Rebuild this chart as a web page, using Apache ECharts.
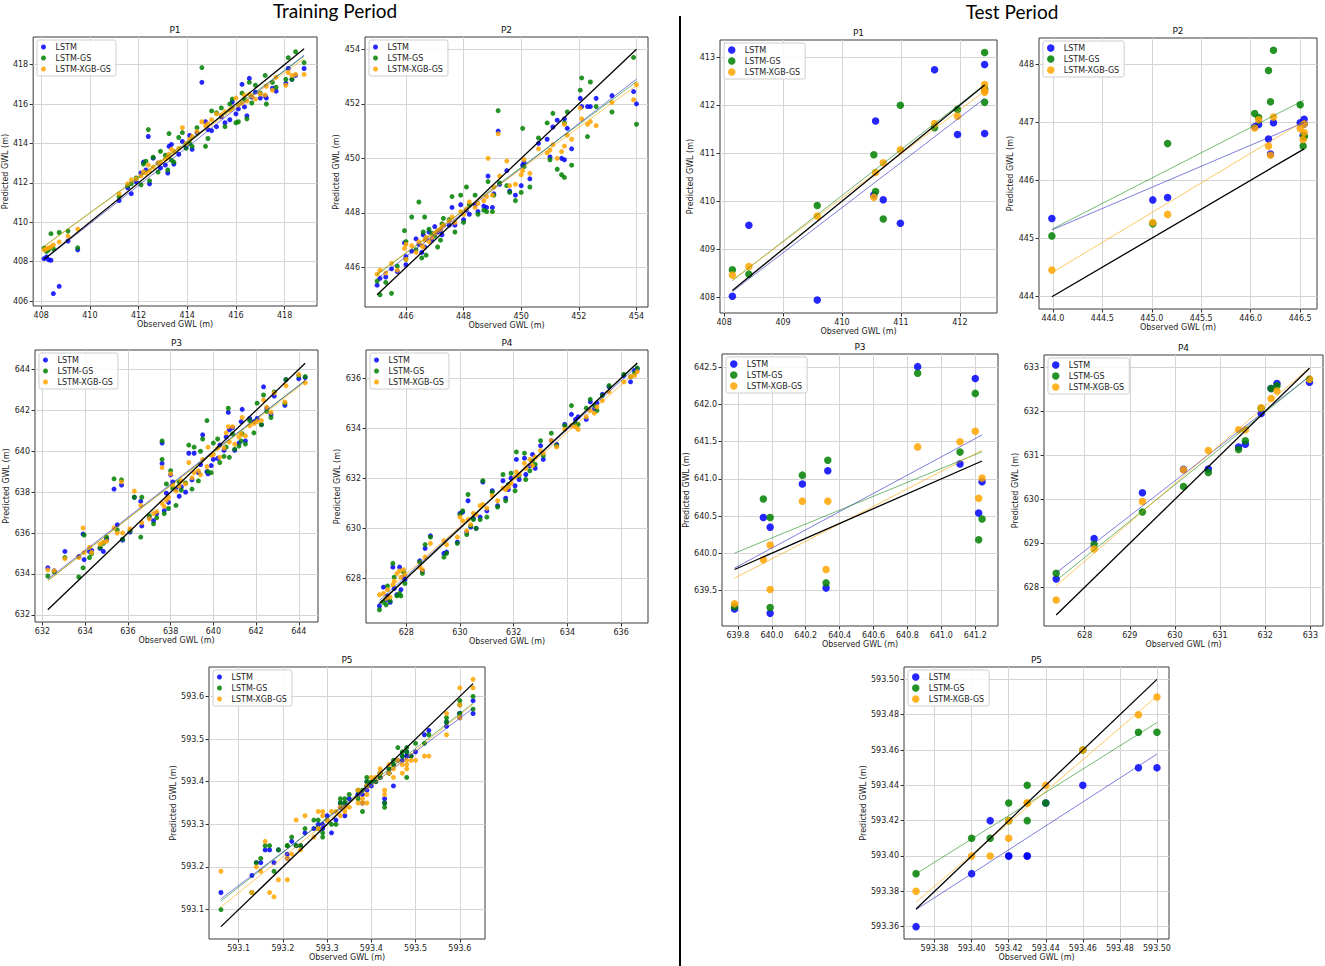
<!DOCTYPE html>
<html>
<head>
<meta charset="utf-8">
<title>Observed vs predicted GWL</title>
<script src="https://cdn.jsdelivr.net/npm/echarts@6/dist/echarts.min.js"></script>
<style>
html, body { margin: 0; padding: 0; background: #fff; }
#chart { width: 1325px; height: 966px; }
</style>
</head>
<body>
<div id="chart"></div>
<script>
var chart = echarts.init(document.getElementById('chart'), null, { renderer: 'svg' });

var seriesNames = ['LSTM', 'LSTM-GS', 'LSTM-XGB-GS'];

// ---- training period, P1
var trainP1Obs = [408.12, 408.22, 408.30, 408.40, 408.50, 408.74, 409.10, 409.50, 411.20, 411.55, 411.70, 411.90,
    412.10, 412.20, 412.30, 412.40, 412.45, 412.60, 412.80, 412.90, 413.10, 413.20, 413.25, 413.35, 413.45, 413.65,
    413.80, 413.95, 414.10, 414.20, 414.40, 414.60, 414.75, 414.85, 415.00, 415.20, 415.40, 415.55, 415.75, 415.85,
    416.00, 416.10, 416.25, 416.35, 416.45, 416.55, 416.65, 416.80, 417.00, 417.20, 417.25, 417.50, 417.65, 418.05,
    418.15, 418.30, 418.45, 418.80];
var trainP1Lstm = [408.15, 408.24, 408.10, 408.07, 406.38, 406.75, 409.05, 408.60, 411.10, 411.75, 411.45, 412.05,
    412.50, 413.05, 412.65, 414.35, 411.95, 413.25, 413.00, 412.75, 412.90, 412.50, 413.85, 413.95, 412.95, 413.45,
    414.10, 413.80, 414.40, 413.70, 414.55, 417.10, 415.10, 414.70, 414.65, 414.85, 415.35, 415.05, 415.20, 416.10,
    415.50, 415.75, 417.00, 415.85, 415.40, 417.30, 416.35, 416.60, 416.30, 416.40, 416.30, 416.80, 416.65, 417.05,
    417.80, 417.25, 417.45, 417.80];
var trainP1Gs = [408.68, 408.52, 408.60, 409.42, 408.65, 409.48, 409.55, 408.70, 411.30, 411.85, 411.95, 412.25,
    411.90, 412.95, 413.10, 414.70, 412.10, 413.30, 412.55, 413.60, 413.40, 412.65, 414.50, 413.15, 413.05, 414.30,
    414.55, 413.75, 414.00, 413.85, 414.80, 417.85, 413.85, 414.25, 415.65, 415.55, 415.80, 414.85, 416.00, 416.25,
    415.05, 415.10, 416.55, 416.25, 415.25, 417.10, 416.05, 416.95, 416.55, 417.45, 416.00, 417.10, 416.85, 417.25,
    418.35, 417.25, 418.65, 418.10];
var trainP1Xgb = [408.60, 408.65, 408.70, 408.75, 408.85, 409.00, 409.30, 409.65, 411.45, 411.95, 412.15, 412.20,
    412.35, 412.55, 412.50, 412.90, 412.60, 412.80, 413.00, 413.05, 413.20, 413.30, 413.45, 413.70, 413.60, 413.75,
    414.80, 414.00, 414.20, 414.35, 414.60, 415.10, 414.90, 415.00, 415.20, 415.50, 415.45, 415.60, 415.70, 415.80,
    416.30, 415.95, 416.05, 416.45, 416.15, 416.50, 416.40, 416.25, 416.50, 416.45, 416.90, 416.70, 417.35, 416.95,
    417.60, 417.45, 417.50, 417.50];
var trainP1XTicks = [408, 410, 412, 414, 416, 418];
var trainP1YTicks = [406, 408, 410, 412, 414, 416, 418];

// ---- training period, P2
var trainP2Obs = [445.0, 445.1, 445.3, 445.5, 445.7, 445.95, 446.0, 446.0, 446.2, 446.35, 446.45, 446.55, 446.6,
    446.65, 446.7, 446.8, 446.9, 447.0, 447.1, 447.2, 447.25, 447.3, 447.5, 447.6, 447.7, 447.9, 448.0, 448.1, 448.2,
    448.4, 448.5, 448.7, 448.8, 448.85, 449.0, 449.05, 449.2, 449.25, 449.5, 449.6, 449.8, 450.0, 450.05, 450.1,
    450.3, 450.6, 450.9, 451.0, 451.1, 451.25, 451.4, 451.5, 451.5, 451.6, 451.75, 452.05, 452.1, 452.3, 452.4,
    452.6, 453.15, 453.9, 454.0];
var trainP2Lstm = [445.35, 445.60, 445.65, 445.95, 445.85, 446.90, 446.10, 446.40, 446.60, 447.05,
    446.85, 446.55, 447.20, 446.75, 447.05, 447.30, 447.00, 447.50, 447.30, 447.35,
    447.20, 447.55, 447.55, 448.20, 447.55, 448.30, 447.75, 448.10, 447.95, 448.30,
    448.05, 448.25, 448.20, 449.35, 448.20, 448.70, 451.00, 449.05, 449.55, 448.80,
    448.65, 449.00, 449.75, 449.85, 449.25, 450.55, 450.70, 450.05, 451.15, 451.40,
    450.00, 449.95, 451.45, 451.10, 450.35, 452.20, 451.90, 451.90, 451.90, 452.20,
    452.30, 452.45, 452.00];
var trainP2Gs = [445.50, 445.00, 445.45, 445.05, 446.05, 447.35, 446.95, 446.30, 447.85, 446.65,
    448.40, 446.35, 447.30, 447.85, 446.45, 447.40, 447.25, 447.15, 446.75, 447.00,
    447.60, 447.80, 447.75, 448.60, 447.30, 448.65, 447.65, 448.95, 448.30, 448.65,
    447.95, 448.10, 448.05, 449.15, 448.05, 448.65, 451.75, 449.10, 449.00, 448.75,
    448.45, 448.75, 451.10, 449.70, 448.95, 450.75, 451.30, 449.95, 451.65, 449.60,
    449.40, 449.30, 451.30, 451.70, 449.75, 452.50, 452.95, 450.80, 452.80, 451.90,
    451.70, 453.70, 451.25];
var trainP2Xgb = [445.75, 445.90, 445.80, 446.15, 445.90, 446.70, 446.30, 446.85, 446.80, 446.55,
    446.95, 446.80, 446.75, 447.00, 447.10, 446.95, 447.10, 447.25, 447.35, 447.40,
    447.50, 447.55, 447.70, 447.85, 447.65, 448.05, 447.95, 448.15, 448.40, 448.20,
    448.35, 448.45, 448.60, 450.00, 448.65, 448.95, 450.90, 449.35, 449.90, 449.00,
    449.05, 449.40, 449.55, 449.95, 449.45, 450.35, 450.20, 450.30, 450.50, 450.00,
    450.25, 450.45, 451.25, 450.85, 450.70, 451.85, 451.45, 451.25, 451.35, 451.20,
    452.05, 452.15, 452.70];
var trainP2XTicks = [446, 448, 450, 452, 454];
var trainP2YTicks = [446, 448, 450, 452, 454];

// ---- training period, P3
var trainP3Obs = [632.25, 632.55, 633.05, 633.7, 633.9, 633.95, 634.2, 634.3, 634.7, 634.85, 635.0, 635.35, 635.5,
    635.7, 635.75, 636.1, 636.3, 636.6, 636.65, 637.0, 637.2, 637.35, 637.6, 637.6, 637.7, 637.8, 637.9, 638.0,
    638.1, 638.25, 638.4, 638.5, 638.7, 638.85, 639.0, 639.1, 639.3, 639.4, 639.5, 639.7, 639.75, 639.9, 640.0,
    640.2, 640.3, 640.5, 640.6, 640.7, 640.75, 640.9, 641.0, 641.2, 641.3, 641.35, 641.5, 641.7, 641.9, 642.05,
    642.25, 642.35, 642.5, 642.7, 642.85, 643.35, 643.4, 644.0, 644.3];
var trainP3Lstm = [634.30, 634.15, 635.10, 634.85, 635.95, 634.70, 635.10, 635.15, 635.25, 635.10,
    635.70, 638.15, 636.40, 638.35, 635.65, 636.05, 637.75, 637.55, 636.35, 636.75,
    636.60, 636.95, 640.40, 639.40, 637.10, 637.95, 637.50, 638.85, 638.50, 638.15,
    637.80, 638.25, 638.00, 639.90, 638.60, 639.90, 638.95, 639.35, 640.80, 639.00,
    638.90, 639.30, 639.60, 639.65, 640.30, 640.05, 640.70, 641.90, 641.05, 641.15,
    640.05, 640.40, 641.45, 642.05, 640.50, 641.60, 641.45, 641.60, 641.30, 643.15,
    642.10, 641.80, 642.70, 642.25, 643.50, 643.55, 643.60];
var trainP3Gs = [633.90, 634.10, 634.80, 633.85, 634.30, 635.90, 634.80, 635.00, 635.30, 635.50,
    635.80, 638.65, 636.15, 638.60, 635.70, 636.10, 637.75, 635.80, 637.75, 636.85,
    636.45, 636.75, 640.50, 639.60, 636.95, 638.40, 637.20, 639.05, 638.20, 637.35,
    638.50, 638.10, 638.45, 640.30, 638.15, 640.20, 638.55, 640.00, 640.60, 641.50,
    639.00, 638.95, 640.40, 640.60, 639.45, 639.75, 640.20, 642.10, 639.70, 640.85,
    640.10, 640.25, 640.50, 640.85, 640.35, 641.50, 640.90, 642.35, 641.30, 642.75,
    641.95, 641.65, 642.90, 642.35, 643.50, 643.70, 643.65];
var trainP3Xgb = [634.20, 634.15, 634.75, 634.80, 636.25, 635.05, 635.30, 635.05, 635.45, 635.55,
    635.60, 636.25, 636.00, 638.50, 636.00, 636.20, 638.05, 637.35, 636.50, 636.70,
    636.95, 637.05, 639.20, 637.45, 637.30, 637.60, 637.75, 638.90, 638.35, 638.05,
    638.30, 638.55, 638.40, 639.45, 638.70, 638.95, 639.05, 638.85, 639.60, 639.25,
    640.20, 639.80, 639.85, 640.15, 639.70, 640.15, 640.90, 641.20, 640.45, 641.20,
    640.35, 640.70, 640.85, 641.65, 640.75, 641.25, 641.35, 641.45, 641.50, 642.50,
    642.15, 641.90, 642.85, 642.40, 643.20, 643.75, 643.35];
var trainP3XTicks = [632, 634, 636, 638, 640, 642, 644];
var trainP3YTicks = [632, 634, 636, 638, 640, 642, 644];

// ---- training period, P4
var trainP4Obs = [627.0, 627.15, 627.25, 627.3, 627.4, 627.5, 627.55, 627.65, 627.75, 627.8, 627.9, 627.95, 628.5,
    628.6, 628.7, 628.9, 629.4, 629.5, 629.9, 630.0, 630.1, 630.25, 630.3, 630.4, 630.5, 630.6, 630.75, 630.85,
    631.0, 631.2, 631.4, 631.6, 631.7, 631.8, 631.9, 632.05, 632.1, 632.2, 632.4, 632.45, 632.6, 632.7, 632.8,
    633.0, 633.1, 633.4, 633.6, 633.9, 634.15, 634.3, 634.4, 634.7, 634.85, 635.0, 635.1, 635.3, 635.55, 636.1,
    636.35, 636.5, 636.6];
var trainP4Lstm = [626.90, 627.65, 627.15, 627.30, 627.05, 628.45, 627.60, 627.35, 628.45, 627.55,
    628.05, 627.95, 628.70, 628.30, 629.20, 629.70, 629.00, 629.05, 629.45, 630.60,
    630.65, 629.85, 631.10, 630.05, 630.40, 630.00, 630.45, 631.85, 630.70, 631.50,
    630.90, 631.90, 631.20, 631.55, 632.00, 631.70, 632.75, 631.95, 632.80, 632.15,
    632.50, 632.95, 632.40, 633.30, 632.75, 633.50, 633.35, 634.15, 634.55, 634.35,
    634.45, 634.35, 635.05, 634.75, 635.00, 635.35, 635.65, 636.10, 635.85, 636.30,
    636.35];
var trainP4Gs = [626.75, 627.05, 626.95, 627.70, 627.10, 628.60, 628.05, 627.30, 627.40, 627.30,
    628.25, 627.80, 628.65, 628.20, 629.35, 629.65, 628.85, 629.00, 629.40, 630.55,
    630.70, 629.75, 631.35, 630.10, 630.35, 630.00, 630.35, 631.90, 630.45, 631.45,
    630.85, 632.15, 631.10, 631.75, 632.20, 631.50, 633.05, 632.10, 633.00, 631.95,
    632.30, 632.70, 632.55, 633.50, 632.90, 633.80, 633.30, 634.10, 634.90, 634.20,
    634.15, 634.80, 635.15, 634.90, 634.70, 635.30, 635.70, 636.15, 636.05, 636.20,
    636.40];
var trainP4Xgb = [627.35, 627.40, 627.20, 627.55, 627.25, 627.75, 627.90, 628.20, 628.30, 628.05,
    628.35, 628.15, 628.45, 628.35, 628.85, 629.40, 629.50, 629.35, 629.65, 630.45,
    630.30, 629.90, 630.35, 630.15, 630.60, 630.55, 630.90, 630.95, 630.80, 631.30,
    631.10, 631.60, 631.55, 631.65, 631.80, 632.05, 632.25, 632.15, 632.60, 632.40,
    632.75, 632.50, 632.85, 633.10, 633.00, 633.50, 633.25, 633.95, 634.10, 634.05,
    633.95, 634.45, 634.70, 634.60, 634.85, 635.10, 635.45, 635.85, 636.05, 636.10,
    636.25];
var trainP4XTicks = [628, 630, 632, 634, 636];
var trainP4YTicks = [628, 630, 632, 634, 636];

// ---- training period, P5
var trainP5Obs = [593.06, 593.13, 593.14, 593.15, 593.16, 593.17, 593.18, 593.19, 593.21, 593.21, 593.22, 593.23,
    593.24, 593.25, 593.27, 593.28, 593.28, 593.29, 593.29, 593.30, 593.31, 593.32, 593.33, 593.33, 593.34, 593.34,
    593.35, 593.37, 593.37, 593.38, 593.38, 593.39, 593.39, 593.39, 593.40, 593.41, 593.42, 593.42, 593.43, 593.43,
    593.44, 593.44, 593.45, 593.45, 593.46, 593.47, 593.47, 593.48, 593.48, 593.48, 593.49, 593.50, 593.52, 593.53,
    593.57, 593.57, 593.60, 593.60, 593.60, 593.63, 593.63];
var trainP5Lstm = [593.14, 593.18, 593.21, 593.21, 593.24, 593.24, 593.21, 593.24, 593.23, 593.22,
    593.26, 593.25, 593.25, 593.28, 593.29, 593.30, 593.29, 593.29, 593.30, 593.32,
    593.28, 593.31, 593.35, 593.34, 593.32, 593.35, 593.36, 593.37, 593.37, 593.35,
    593.37, 593.40, 593.38, 593.39, 593.39, 593.40, 593.41, 593.42, 593.36, 593.35,
    593.43, 593.42, 593.39, 593.44, 593.45, 593.45, 593.46, 593.46, 593.47, 593.46,
    593.46, 593.47, 593.51, 593.52, 593.53, 593.54, 593.56, 593.56, 593.55, 593.59,
    593.56];
var trainP5Gs = [593.10, 593.14, 593.21, 593.22, 593.25, 593.25, 593.19, 593.24, 593.25, 593.25,
    593.27, 593.25, 593.25, 593.29, 593.31, 593.31, 593.29, 593.28, 593.27, 593.31,
    593.30, 593.30, 593.36, 593.35, 593.35, 593.36, 593.37, 593.38, 593.36, 593.33,
    593.38, 593.41, 593.40, 593.39, 593.40, 593.40, 593.41, 593.42, 593.34, 593.35,
    593.43, 593.42, 593.45, 593.44, 593.48, 593.47, 593.46, 593.48, 593.47, 593.41,
    593.46, 593.49, 593.49, 593.51, 593.55, 593.54, 593.59, 593.58, 593.56, 593.60,
    593.57];
var trainP5Xgb = [593.19, 593.14, 593.20, 593.19, 593.26, 593.14, 593.13, 593.17, 593.22, 593.17,
    593.23, 593.31, 593.24, 593.32, 593.27, 593.33, 593.29, 593.33, 593.32, 593.31,
    593.33, 593.33, 593.34, 593.32, 593.33, 593.34, 593.34, 593.38, 593.35, 593.36,
    593.35, 593.39, 593.35, 593.37, 593.41, 593.41, 593.43, 593.42, 593.38, 593.37,
    593.44, 593.42, 593.41, 593.43, 593.45, 593.44, 593.42, 593.45, 593.44, 593.43,
    593.45, 593.45, 593.46, 593.46, 593.56, 593.51, 593.62, 593.58, 593.55, 593.64,
    593.62];
var trainP5XTicks = [593.1, 593.2, 593.3, 593.4, 593.5, 593.6];
var trainP5YTicks = [593.1, 593.2, 593.3, 593.4, 593.5, 593.6];

// ---- test period
var testP1Obs = [408.14, 408.42, 409.58, 410.54, 410.57, 410.70, 410.99, 411.57, 411.96, 412.42, 412.42, 412.42];
var testP1Lstm = [408.02, 409.50, 407.94, 410.13, 411.67, 410.03, 409.54, 412.74, 411.39, 412.85, 411.41, 412.32];
var testP1Gs = [408.57, 408.48, 409.91, 410.97, 410.20, 409.63, 412.00, 411.53, 411.91, 413.10, 412.06, 412.35];
var testP1Xgb = [408.46, 408.64, 409.69, 410.08, 410.60, 410.80, 411.07, 411.62, 411.77, 412.43, 412.32, 412.27];
var testP1XTicks = [408, 409, 410, 411, 412];
var testP1YTicks = [408, 409, 410, 411, 412, 413];

var testP2Obs = [443.99, 445.01, 445.16, 446.04, 446.08, 446.18, 446.20, 446.23, 446.50, 446.53, 446.54, 446.54];
var testP2Lstm = [445.34, 445.66, 445.70, 446.92, 446.96, 446.71, 446.45, 446.99, 446.99, 446.77, 447.05, 446.97];
var testP2Gs = [445.04, 445.25, 446.63, 447.15, 447.08, 447.89, 447.35, 448.24, 447.30, 446.59, 446.76, 446.75];
var testP2Xgb = [444.45, 445.27, 445.41, 446.90, 447.04, 446.59, 446.43, 447.09, 446.89, 446.70, 446.82, 446.97];
var testP2XTicks = [444.0, 444.5, 445.0, 445.5, 446.0, 446.5];
var testP2YTicks = [444, 445, 446, 447, 448];

var testP3Obs = [639.78, 639.95, 639.99, 639.99, 640.18, 640.32, 640.33, 640.86, 641.11, 641.20, 641.22, 641.24];
var testP3Lstm = [639.25, 640.48, 640.35, 639.19, 640.93, 639.53, 641.11, 642.51, 641.20, 642.35, 640.54, 640.96];
var testP3Gs = [639.28, 640.73, 640.48, 639.27, 641.05, 639.60, 641.25, 642.42, 641.36, 642.15, 640.18, 640.46];
var testP3Xgb = [639.32, 639.91, 640.11, 639.51, 640.70, 639.78, 640.70, 641.43, 641.50, 641.64, 640.74, 641.01];
var testP3XTicks = [639.8, 640.0, 640.2, 640.4, 640.6, 640.8, 641.0, 641.2];
var testP3YTicks = [639.5, 640.0, 640.5, 641.0, 641.5, 642.0, 642.5];

var testP4Obs = [627.37, 628.21, 629.28, 630.19, 630.74, 631.41, 631.56, 631.91, 632.13, 632.26, 632.98];
var testP4Lstm = [628.19, 629.11, 630.15, 630.68, 630.69, 631.19, 631.25, 631.95, 632.52, 632.63, 632.66];
var testP4Gs = [628.32, 628.98, 629.71, 630.29, 630.61, 631.13, 631.33, 632.07, 632.52, 632.58, 632.73];
var testP4Xgb = [627.71, 628.87, 629.95, 630.67, 631.11, 631.58, 631.58, 632.08, 632.29, 632.46, 632.73];
var testP4XTicks = [628, 629, 630, 631, 632, 633];
var testP4YTicks = [628, 629, 630, 631, 632, 633];

var testP5Obs = [593.37, 593.40, 593.41, 593.42, 593.42, 593.43, 593.43, 593.44, 593.46, 593.49, 593.50];
var testP5Lstm = [593.36, 593.39, 593.42, 593.40, 593.40, 593.40, 593.40, 593.43, 593.44, 593.45, 593.45];
var testP5Gs = [593.39, 593.41, 593.41, 593.43, 593.42, 593.44, 593.42, 593.43, 593.46, 593.47, 593.47];
var testP5Xgb = [593.38, 593.40, 593.40, 593.41, 593.42, 593.43, 593.43, 593.44, 593.46, 593.48, 593.49];
var testP5XTicks = [593.38, 593.40, 593.42, 593.44, 593.46, 593.48, 593.50];
var testP5YTicks = [593.36, 593.38, 593.40, 593.42, 593.44, 593.46, 593.48, 593.50];

// colours
var pointColors = ['#0000ff', '#008000', '#ffa500'];
var fitColors = ['rgba(40,40,200,0.6)', 'rgba(0,128,0,0.55)', 'rgba(255,165,0,0.6)'];
var FONT = 'DejaVu Sans';

// layout of the ten panels: box = [left, top, width, height]
var panels = [
    { title: 'P1', obs: trainP1Obs, preds: [trainP1Lstm, trainP1Gs, trainP1Xgb], xTicks: trainP1XTicks, yTicks: trainP1YTicks,
      box: [33, 37, 284, 269], xr: [407.67, 419.33], yr: [405.75, 419.4], dec: [0, 0], yGap: 23, dot: 5, legW: 14 },
    { title: 'P2', obs: trainP2Obs, preds: [trainP2Lstm, trainP2Gs, trainP2Xgb], xTicks: trainP2XTicks, yTicks: trainP2YTicks,
      box: [365, 37, 283, 270], xr: [444.58, 454.4], yr: [444.55, 454.45], dec: [0, 0], yGap: 25, dot: 5, legW: 14 },
    { title: 'P3', obs: trainP3Obs, preds: [trainP3Lstm, trainP3Gs, trainP3Xgb], xTicks: trainP3XTicks, yTicks: trainP3YTicks,
      box: [35, 350, 283, 272], xr: [631.65, 644.9], yr: [631.65, 644.95], dec: [0, 0], yGap: 24, dot: 5, legW: 14 },
    { title: 'P4', obs: trainP4Obs, preds: [trainP4Lstm, trainP4Gs, trainP4Xgb], xTicks: trainP4XTicks, yTicks: trainP4YTicks,
      box: [366, 350, 282, 273], xr: [626.5, 637.0], yr: [626.22, 637.12], dec: [0, 0], yGap: 25, dot: 5, legW: 14 },
    { title: 'P5', obs: trainP5Obs, preds: [trainP5Lstm, trainP5Gs, trainP5Xgb], xTicks: trainP5XTicks, yTicks: trainP5YTicks,
      box: [209, 667, 276, 272], xr: [593.033, 593.657], yr: [593.031, 593.669], dec: [1, 1], yGap: 32, dot: 5, legW: 14 },
    { title: 'P1', obs: testP1Obs, preds: [testP1Lstm, testP1Gs, testP1Xgb], xTicks: testP1XTicks, yTicks: testP1YTicks,
      box: [720, 40, 277, 273], xr: [407.93, 412.63], yr: [407.67, 413.36], dec: [0, 0], yGap: 26, dot: 7.5, legW: 16 },
    { title: 'P2', obs: testP2Obs, preds: [testP2Lstm, testP2Gs, testP2Xgb], xTicks: testP2XTicks, yTicks: testP2YTicks,
      box: [1039, 38, 278, 271], xr: [443.86, 446.67], yr: [443.78, 448.45], dec: [1, 0], yGap: 24, dot: 7.5, legW: 16 },
    { title: 'P3', obs: testP3Obs, preds: [testP3Lstm, testP3Gs, testP3Xgb], xTicks: testP3XTicks, yTicks: testP3YTicks,
      box: [722, 354, 276, 272], xr: [639.706, 641.334], yr: [639.02, 642.68], dec: [1, 1], yGap: 32, dot: 7.5, legW: 16 },
    { title: 'P4', obs: testP4Obs, preds: [testP4Lstm, testP4Gs, testP4Xgb], xTicks: testP4XTicks, yTicks: testP4YTicks,
      box: [1044, 355, 279, 271], xr: [627.1, 633.28], yr: [627.12, 633.28], dec: [0, 0], yGap: 25, dot: 7.5, legW: 16 },
    { title: 'P5', obs: testP5Obs, preds: [testP5Lstm, testP5Gs, testP5Xgb], xTicks: testP5XTicks, yTicks: testP5YTicks,
      box: [904, 667, 265, 272], xr: [593.3635, 593.5065], yr: [593.353, 593.507], dec: [2, 2], yGap: 37, dot: 7.5, legW: 16 }
];

// least squares line of y on x, drawn over the x extent of the data
function fitLine(xs, ys) {
    var n = xs.length, mx = 0, my = 0, sxy = 0, sxx = 0;
    for (var i = 0; i < n; i++) { mx += xs[i]; my += ys[i]; }
    mx /= n; my /= n;
    for (var j = 0; j < n; j++) {
        sxy += (xs[j] - mx) * (ys[j] - my);
        sxx += (xs[j] - mx) * (xs[j] - mx);
    }
    var b = sxy / sxx, a = my - b * mx;
    var x0 = Math.min.apply(null, xs), x1 = Math.max.apply(null, xs);
    return [[x0, a + b * x0], [x1, a + b * x1]];
}

function makeAxis(gridIndex, range, ticks, dec, name, gap) {
    return {
        type: 'value', gridIndex: gridIndex, min: range[0], max: range[1], scale: true,
        name: name, nameLocation: 'middle', nameGap: gap,
        nameTextStyle: { fontSize: 8, color: '#222', fontFamily: FONT },
        axisLine: { show: false },
        axisTick: { show: true, inside: false, length: 3.5, customValues: ticks, lineStyle: { color: '#333' } },
        axisLabel: {
            customValues: ticks, fontSize: 8, color: '#222', margin: 5, fontFamily: FONT,
            formatter: function (v) { return Number(v).toFixed(dec); }
        },
        splitLine: { show: true, lineStyle: { color: '#d5d5d5', width: 1 } }
    };
}

var grids = [], xAxes = [], yAxes = [], series = [], legends = [];
var graphics = [
    { type: 'line', shape: { x1: 680, y1: 16, x2: 680, y2: 966 }, style: { stroke: '#000', lineWidth: 2 } },
    { type: 'text', x: 335, y: 10, style: { text: 'Training Period', fontSize: 19, fontFamily: 'Lato', fill: '#000', align: 'center', verticalAlign: 'middle' } },
    { type: 'text', x: 1012, y: 11, style: { text: 'Test Period', fontSize: 19, fontFamily: 'Lato', fill: '#000', align: 'center', verticalAlign: 'middle' } }
];

panels.forEach(function (p, k) {
    grids.push({
        left: p.box[0], top: p.box[1], width: p.box[2], height: p.box[3],
        show: true, borderColor: '#3a3a3a', borderWidth: 1, backgroundColor: '#fff'
    });
    xAxes.push(makeAxis(k, p.xr, p.xTicks, p.dec[0], 'Observed GWL (m)', 14));
    yAxes.push(makeAxis(k, p.yr, p.yTicks, p.dec[1], 'Predicted GWL (m)', p.yGap));

    p.preds.forEach(function (ys, s) {
        series.push({
            name: seriesNames[s], type: 'scatter', xAxisIndex: k, yAxisIndex: k,
            data: p.obs.map(function (x, i) { return [x, ys[i]]; }),
            symbol: 'circle', symbolSize: p.dot,
            itemStyle: { color: pointColors[s], opacity: 0.85 },
            silent: true
        });
    });
    p.preds.forEach(function (ys, s) {
        series.push({
            name: 'fit ' + seriesNames[s], type: 'line', xAxisIndex: k, yAxisIndex: k,
            data: fitLine(p.obs, ys), symbol: 'none', silent: true, z: 3,
            lineStyle: { color: fitColors[s], width: 1 }
        });
    });
    var lo = Math.min.apply(null, p.obs), hi = Math.max.apply(null, p.obs);
    series.push({
        name: '1:1', type: 'line', xAxisIndex: k, yAxisIndex: k,
        data: [[lo, lo], [hi, hi]], symbol: 'none', silent: true, z: 4,
        lineStyle: { color: '#000', width: 1.3 }
    });

    legends.push({
        data: seriesNames, orient: 'vertical', left: p.box[0] + 4, top: p.box[1] + 3,
        icon: 'circle', itemWidth: p.legW, itemHeight: p.dot, itemGap: 3,
        padding: [3, 5, 3, 4], borderColor: '#cfcfcf', borderWidth: 1, borderRadius: 2,
        backgroundColor: 'rgba(255,255,255,0.85)', selectedMode: false,
        textStyle: { fontSize: 8, color: '#222', fontFamily: FONT }
    });

    graphics.push({
        type: 'text', x: p.box[0] + p.box[2] / 2, y: p.box[1] - 7,
        style: { text: p.title, fontSize: 9, fontFamily: FONT, fill: '#111', align: 'center', verticalAlign: 'middle' }
    });
});

var option = {
    animation: false,
    backgroundColor: '#fff',
    textStyle: { fontFamily: FONT },
    grid: grids,
    xAxis: xAxes,
    yAxis: yAxes,
    legend: legends,
    graphic: graphics,
    series: series
};

chart.setOption(option);
</script>
</body>
</html>
